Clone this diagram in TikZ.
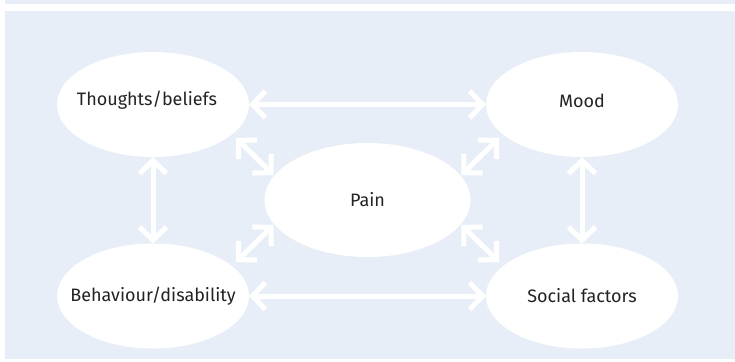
\documentclass[tikz,border=0pt]{standalone}
\usepackage{fontspec}
\setmainfont{Fira Sans}
\usetikzlibrary{arrows.meta,shapes.geometric}
\definecolor{panel}{RGB}{232,238,247}
\definecolor{ink}{RGB}{35,35,35}
\begin{document}
\begin{tikzpicture}[x=1pt,y=-1pt,
  bubble/.style={ellipse, fill=white, inner sep=0pt, outer sep=0pt},
  topbubble/.style={bubble, minimum width=192pt, minimum height=105pt},
  painbubble/.style={bubble, minimum width=206pt, minimum height=114pt},
  caption/.style={text=ink, font=\fontsize{18}{20}\selectfont, inner sep=0pt},
  barb/.tip={Straight Barb[length=13pt,width=27pt]},
  link/.style={draw=white, line width=5pt, barb-barb}]
\useasboundingbox (0,0) rectangle (735,361);
% header strip and panel
\fill[panel] (5,0) rectangle (735,4);
\fill[panel] (5,11) rectangle (735,359);
% factors
\node[topbubble, label={[caption, xshift=-6pt, yshift=4pt]center:Thoughts/beliefs}] (T) at (153,104.5) {};
\node[topbubble, label={[caption, yshift=4pt]center:Mood}] (M) at (582,104.5) {};
\node[topbubble, label={[caption]center:Behaviour/disability}] (B) at (153,296) {};
\node[topbubble, label={[caption]center:Social factors}] (S) at (582,296) {};
\node[painbubble, label={[caption]center:Pain}] (P) at (367.5,200) {};
% two-way links
\draw[link] (T.east) -- (M.west);
\draw[link] (B.east) -- (S.west);
\draw[link] (T.south) -- (B.north);
\draw[link] (M.south) -- (S.north);
\draw[link] ([shift={(83,33.5)}]T.center) -- ([shift={(-94,-25)}]P.center);
\draw[link] ([shift={(-83,33.5)}]M.center) -- ([shift={(94,-25)}]P.center);
\draw[link] ([shift={(83,-34)}]B.center) -- ([shift={(-94,25)}]P.center);
\draw[link] ([shift={(-83,-34)}]S.center) -- ([shift={(94,25)}]P.center);
\end{tikzpicture}
\end{document}
